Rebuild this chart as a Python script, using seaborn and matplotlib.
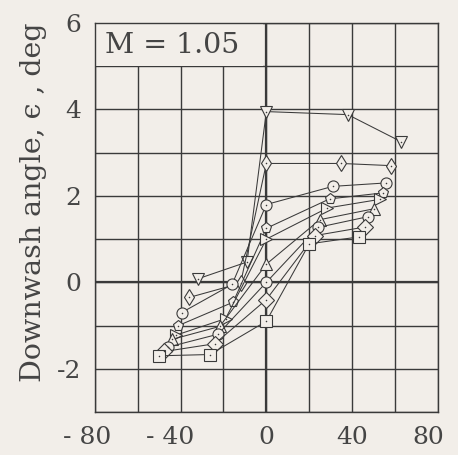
import numpy as np
import pandas as pd
import matplotlib
matplotlib.use("Agg")
import matplotlib.pyplot as plt
import matplotlib.transforms as mtrans
import seaborn as sns
from matplotlib.patches import Rectangle

# data (9 faired curves, 5 test points each)
x_v = [-32, -9, 0, 38, 63]
e_v = [0.08, 0.47, 3.95, 3.88, 3.25]
x_d = [-36, -12, 0, 35, 58]
e_d = [-0.35, -0.02, 2.75, 2.75, 2.70]
x_o = [-39.5, -16, 0, 31, 56]
e_o = [-0.70, -0.05, 1.80, 2.22, 2.30]
x_p = [-41, -15.5, 0, 29.5, 54.5]
e_p = [-1.00, -0.46, 1.25, 1.93, 2.07]
x_r = [-42, -19, 0, 28.5, 53]
e_r = [-1.22, -0.84, 1.00, 1.72, 1.92]
x_t = [-44, -21.7, 0, 25, 50]
e_t = [-1.32, -1.02, 0.42, 1.45, 1.70]
x_c = [-46, -22.5, 0, 24, 47.5]
e_c = [-1.50, -1.20, 0.00, 1.27, 1.52]
x_D = [-47.5, -24, 0, 22.5, 46]
e_D = [-1.60, -1.42, -0.40, 1.08, 1.28]
x_s = [-50, -26.3, 0, 20, 43]
e_s = [-1.70, -1.67, -0.90, 0.89, 1.05]

curves = ["v", "d", "o", "p", ">", "^", "c", "D", "s"]
xs = [x_v, x_d, x_o, x_p, x_r, x_t, x_c, x_D, x_s]
es = [e_v, e_d, e_o, e_p, e_r, e_t, e_c, e_D, e_s]
marker_map = {"v": "v", "d": "d", "o": "o", "p": "p", ">": ">",
              "^": "^", "c": "o", "D": "D", "s": "s"}

x_ticks = [-80, -40, 0, 40, 80]
x_ticklabels = ["- 80", "- 40", "0", "40", "80"]
y_ticks = [-2, 0, 2, 4, 6]
y_ticklabels = ["-2", "0", "2", "4", "6"]

rows = []
for name, xx, ee in zip(curves, xs, es):
    for i, (a, b) in enumerate(zip(xx, ee)):
        rows.append({"curve": name, "x": a, "eps": b, "order": i})
df = pd.DataFrame(rows)

bg = "#f2eee9"
ink = "#3a3a3a"
txt = "#454545"

sns.set_theme(style="white")
plt.rcParams["font.family"] = ["DejaVu Serif"]

fig = plt.figure(figsize=(4.58, 4.55), dpi=100, facecolor=bg)
ax = fig.add_axes([0.207, 0.0945, 0.749, 0.855])
ax.set_facecolor(bg)

sns.lineplot(data=df, x="x", y="eps", style="curve", markers=marker_map,
             dashes=False, color=ink, linewidth=0.75, markersize=8,
             markerfacecolor=bg, markeredgecolor=ink, mew=0.8,
             estimator=None, sort=False, legend=False, ax=ax, zorder=3)
# centre dots of the symbols
sns.scatterplot(data=df, x="x", y="eps", marker=".", s=5, color=ink,
                linewidth=0, legend=False, ax=ax, zorder=4)

ax.set_xlim(-80, 80)
ax.set_ylim(-3, 6)
x_grid = np.arange(-80, 81, 20)
y_grid = np.arange(-3, 7, 1)
ax.set_xticks(x_grid)
ax.set_yticks(y_grid)
ax.grid(True, color=ink, linewidth=1.0)
ax.set_axisbelow(True)
ax.axhline(0, color=ink, linewidth=1.6, zorder=1)
ax.axvline(0, color=ink, linewidth=1.6, zorder=1)

# label box hides the grid behind "M = 1.05"
ax.add_patch(Rectangle((0, 8 / 9), 0.49, 1 / 9, transform=ax.transAxes,
                       facecolor=bg, edgecolor="none", zorder=1.5))
ax.text(0.03, 0.943, "M = 1.05", transform=ax.transAxes, fontsize=20.5,
        color=txt, va="center", ha="left", zorder=5)

xl = ["" for _ in x_grid]
for t, lab in zip(x_ticks, x_ticklabels):
    xl[list(x_grid).index(t)] = lab
ax.set_xticklabels(xl)
yl = ["" for _ in y_grid]
for t, lab in zip(y_ticks, y_ticklabels):
    yl[list(y_grid).index(t)] = lab
ax.set_yticklabels(yl)
ax.tick_params(axis="both", length=0, labelsize=18, colors=txt, pad=10)

# nudge the outer x labels like the original lettering
shift = {"- 80": -8, "- 40": -10, "80": -10}
for lab in ax.get_xticklabels():
    dx = shift.get(lab.get_text(), 0)
    if dx:
        lab.set_transform(lab.get_transform() +
                          mtrans.ScaledTranslation(dx / 100, 0, fig.dpi_scale_trans))

ax.set_xlabel("")
ax.set_ylabel("Downwash angle, \u03f5 , deg", fontsize=20.5, color=txt)
ax.yaxis.set_label_coords(-0.14, 0.54)

for sp in ax.spines.values():
    sp.set_color(ink)
    sp.set_linewidth(1.0)

fig.savefig("out.png", dpi=100, facecolor=bg)
